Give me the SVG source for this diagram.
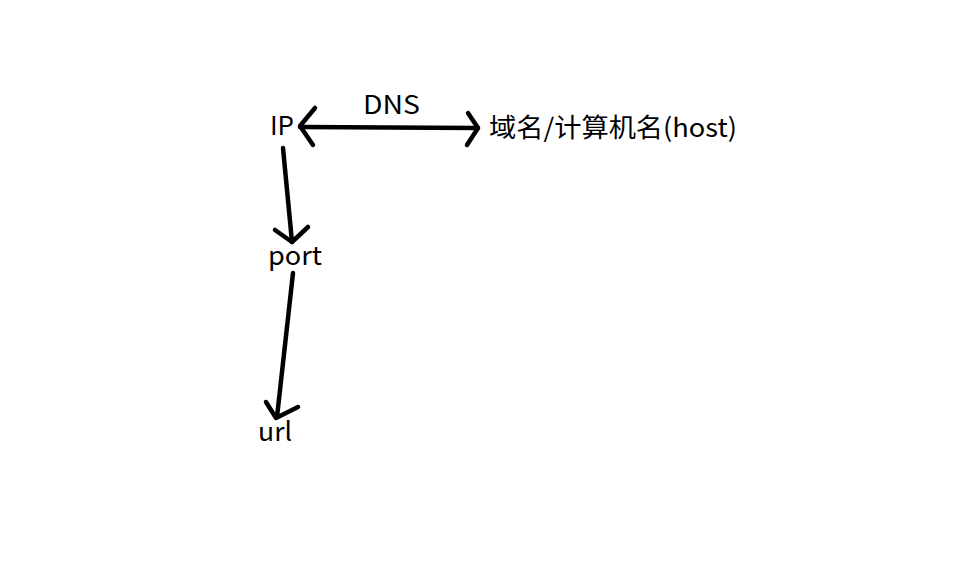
<svg xmlns="http://www.w3.org/2000/svg" width="953" height="583" viewBox="0 0 953 583">
<style>
.t{font-family:"Noto Sans CJK SC","Open Sans",sans-serif;font-size:26px;fill:#000}
.s{fill:none;stroke:#000;stroke-width:4.5;stroke-linecap:round;stroke-linejoin:round}
</style>
<rect width="953" height="583" fill="#fff"/>
<g id="connectors">
<path class="s" d="M300 127 L478 128"/>
<path class="s" d="M315 108 L300 126 L313 145"/>
<path class="s" d="M468 113 L478 128 L467 145"/>
<path class="s" d="M283 148 L292 242"/>
<path class="s" d="M275 230 L292 242 L308 227"/>
<path class="s" d="M293 273 L277 417"/>
<path class="s" d="M266 402 L276 418 L298 407"/>
</g>
<g id="node-ip"><text class="t" x="270" y="135">IP</text></g>
<g id="label-dns"><text class="t" x="363" y="114" textLength="57" lengthAdjust="spacingAndGlyphs">DNS</text></g>
<g id="node-host"><text class="t" x="489" y="137" textLength="248" lengthAdjust="spacingAndGlyphs">域名/计算机名(host)</text></g>
<g id="node-port"><text class="t" x="268" y="265" textLength="54" lengthAdjust="spacingAndGlyphs">port</text></g>
<g id="node-url"><text class="t" x="258" y="441" textLength="34" lengthAdjust="spacingAndGlyphs">url</text></g>
</svg>
